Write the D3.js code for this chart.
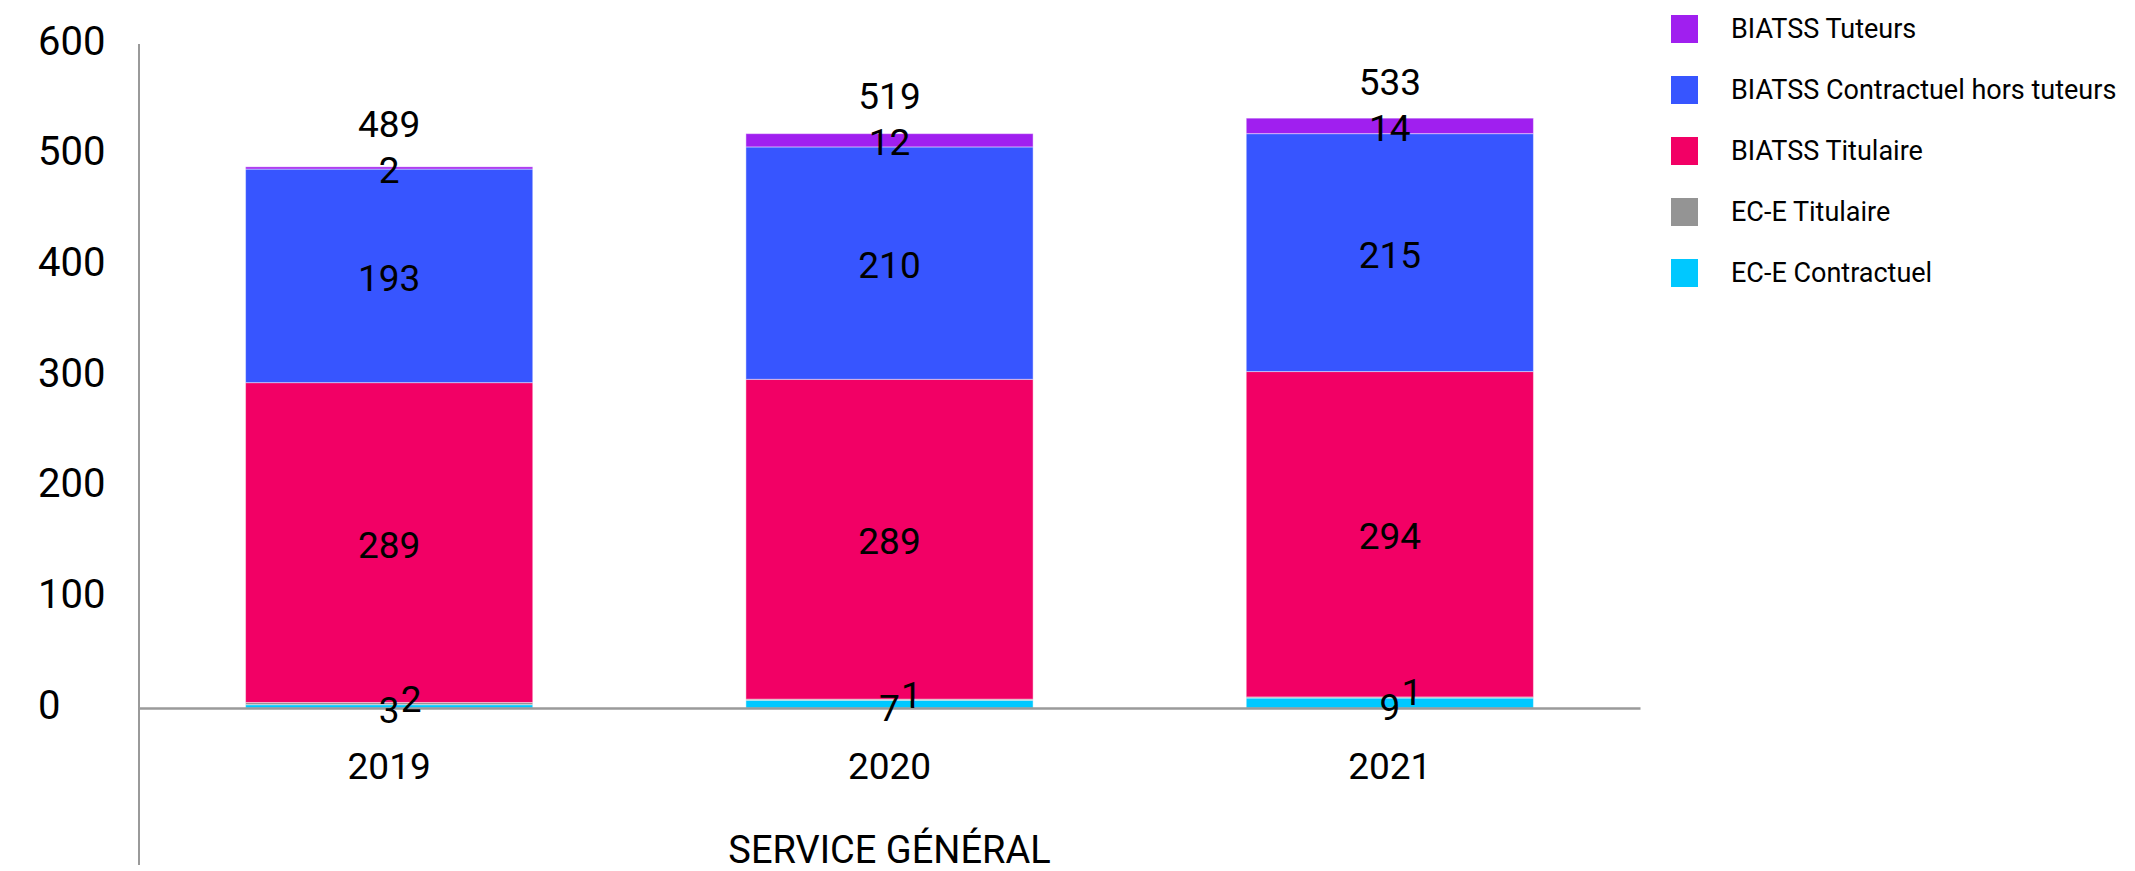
<!DOCTYPE html>
<html>
<head>
<meta charset="utf-8">
<script src="https://cdn.jsdelivr.net/npm/d3@7"></script>
<style>
  body { margin: 0; background: #fff; }
  text { font-family: Roboto, "Noto Sans", sans-serif; fill: #000; }
</style>
</head>
<body>
<div id="chart"></div>
<script>
// data
const years = ["2019", "2020", "2021"];
const seriesNames = [
  "EC-E Contractuel",
  "EC-E Titulaire",
  "BIATSS Titulaire",
  "BIATSS Contractuel hors tuteurs",
  "BIATSS Tuteurs"
];
const eceContractuel = [3, 7, 9];
const eceTitulaire = [2, 1, 1];
const biatssTitulaire = [289, 289, 294];
const biatssContractuel = [193, 210, 215];
const biatssTuteurs = [2, 12, 14];
const totals = [489, 519, 533];
const yTicks = [0, 100, 200, 300, 400, 500, 600];
const seriesColors = ["#00c8ff", "#949494", "#f20065", "#3755ff", "#a01fef"];
const axisTitle = "SERVICE GÉNÉRAL";

const width = 2135, height = 871;
const plotLeft = 139, plotRight = 1640, plotTop = 44, plotBottom = 708;

const seriesValues = [eceContractuel, eceTitulaire, biatssTitulaire, biatssContractuel, biatssTuteurs];
const rows = years.map((year, i) => {
  const row = { year };
  seriesNames.forEach((name, k) => { row[name] = seriesValues[k][i]; });
  return row;
});

const stacked = d3.stack().keys(seriesNames)(rows);

const x = d3.scaleBand().domain(years).range([plotLeft, plotRight])
  .paddingInner(0.426).paddingOuter(0.213);
const y = d3.scaleLinear().domain([0, 600]).range([plotBottom, plotTop]);
const color = d3.scaleOrdinal().domain(seriesNames).range(seriesColors);

const svg = d3.select("#chart").append("svg")
  .attr("width", width).attr("height", height);

// y axis: labels left aligned, line runs below the baseline
const yAxis = svg.append("g")
  .attr("transform", `translate(${plotLeft},0)`)
  .call(d3.axisLeft(y).tickValues(yTicks).tickSize(0));
yAxis.select(".domain").remove();
yAxis.selectAll("text")
  .attr("x", 38 - plotLeft)
  .attr("dy", "0.25em")
  .style("text-anchor", "start")
  .style("font-size", "40px");

svg.append("line")
  .attr("x1", plotLeft).attr("x2", plotLeft)
  .attr("y1", y(600)).attr("y2", height - 6)
  .attr("stroke", "#9a9a9a").attr("stroke-width", 2);

// bars
const layers = svg.append("g").selectAll("g")
  .data(stacked)
  .enter()
  .append("g")
  .attr("fill", (d) => color(d.key));

layers.selectAll("rect")
  .data((d) => d)
  .enter()
  .append("rect")
  .attr("x", (d) => x(d.data.year))
  .attr("width", x.bandwidth())
  .attr("y", (d) => y(d[1]))
  .attr("height", (d) => y(d[0]) - y(d[1]))
  .attr("stroke", "rgba(255,255,255,0.45)")
  .attr("stroke-width", 1);

// baseline
const xAxis = svg.append("g")
  .attr("transform", `translate(0,${plotBottom})`)
  .call(d3.axisBottom(x).tickSize(0));
xAxis.select(".domain").attr("stroke", "#9a9a9a").attr("stroke-width", 2.5);
xAxis.selectAll("text")
  .attr("y", 58)
  .attr("dy", "0.35em")
  .style("font-size", "37px");

// segment labels
const labels = svg.append("g");
const labelY = (d, k) => {
  const mid = (y(d[0]) + y(d[1])) / 2;
  if (k === 0) return mid + 4;
  if (k === 1) return mid - 5;
  return mid + 2;
};
stacked.forEach((layer, k) => {
  labels.selectAll(null)
    .data(layer)
    .enter()
    .append("text")
    .attr("x", (d) => x(d.data.year) + x.bandwidth() / 2 + (k === 1 ? 22 : 0))
    .attr("y", (d) => labelY(d, k))
    .attr("dy", "0.35em")
    .style("text-anchor", "middle")
    .style("font-size", "37px")
    .text((d) => d[1] - d[0]);
});

// totals, pushed up when they would sit on the top segment label
const topLayer = stacked[stacked.length - 1];
labels.selectAll(null)
  .data(totals)
  .enter()
  .append("text")
  .attr("x", (d, i) => x(years[i]) + x.bandwidth() / 2)
  .attr("y", (d, i) => Math.min(y(d) - 22, labelY(topLayer[i], 4) - 46))
  .attr("dy", "0.35em")
  .style("text-anchor", "middle")
  .style("font-size", "37px")
  .text((d) => d);

// axis title
svg.append("text")
  .attr("x", (plotLeft + plotRight) / 2)
  .attr("y", 850)
  .attr("dy", "0.35em")
  .style("text-anchor", "middle")
  .style("font-size", "38px")
  .text(axisTitle);

// legend, top series first
const legendItems = seriesNames.slice().reverse();
const legend = svg.append("g")
  .selectAll("g")
  .data(legendItems)
  .enter()
  .append("g")
  .attr("transform", (d, i) => `translate(1671, ${29 + i * 61})`);

legend.append("rect")
  .attr("x", 0).attr("y", -14)
  .attr("width", 27).attr("height", 28)
  .attr("fill", (d) => color(d));

const legendRoom = width - 1671 - 60 - 6;
legend.append("text")
  .attr("x", 60)
  .attr("dy", "0.35em")
  .style("font-size", "27px")
  .text((d) => d)
  .each(function () {
    // shrink a label that would run past the page edge
    const len = this.getComputedTextLength();
    if (len > legendRoom) {
      d3.select(this).style("font-size", (27 * legendRoom / len).toFixed(1) + "px");
    }
  });
</script>
</body>
</html>
